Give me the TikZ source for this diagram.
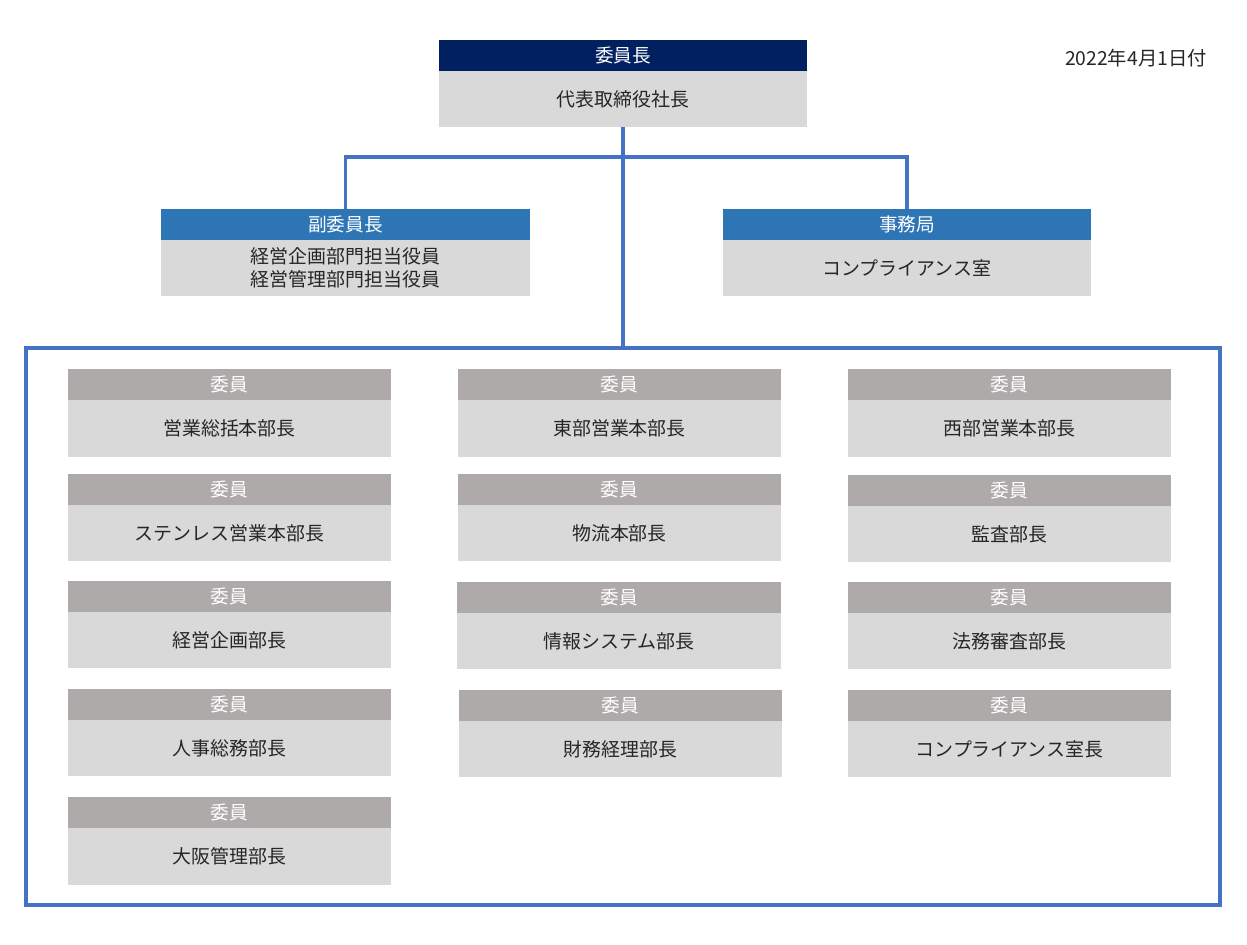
\documentclass[tikz,border=0pt]{standalone}
\usepackage{fontspec}
\setmainfont{Noto Sans CJK JP}
\definecolor{navy}{HTML}{002060}
\definecolor{midblue}{HTML}{2E75B6}
\definecolor{greyhead}{HTML}{AEAAAA}
\definecolor{bodygrey}{HTML}{D9D9D9}
\definecolor{linkblue}{HTML}{4472C4}
\definecolor{txt}{HTML}{262626}
\tikzset{
  hdr/.style={fill=greyhead, text=white, inner sep=0pt, outer sep=0pt, font=\fontsize{14}{16}\selectfont},
  chair/.style={fill=navy},
  vice/.style={fill=midblue},
  bdy/.style={fill=bodygrey, text=txt, inner sep=0pt, outer sep=0pt, align=center, font=\fontsize{14.2}{17.25}\selectfont},
  link/.style={draw=linkblue, line width=2.4pt},
}
% name, x1, x2, ytop, ybottom, header style, header text, body text
\newcommand\orgbox[8]{%
  \node[hdr, #6, anchor=north west, minimum width={(#3-#2)*0.75pt}, minimum height={31*0.75pt}] (#1h) at (#2,#4) {#7};
  \node[bdy, anchor=north west, minimum width={(#3-#2)*0.75pt}, minimum height={(#5-#4-31)*0.75pt}] (#1b) at (#2,#4+31) {#8};
}
\begin{document}
\begin{tikzpicture}[x=0.75pt,y=-0.75pt]
\useasboundingbox (0,0) rectangle (1247,945);
% frame
\node[draw=linkblue, line width=2.4pt, inner sep=0pt, outer sep=0pt, minimum width={1194*0.75pt}, minimum height={557*0.75pt}, anchor=north west] (frame) at (26,348) {};
% top-level boxes
\orgbox{chair}{439}{807}{40}{127}{chair}{委員長}{代表取締役社長}
\orgbox{vice}{161}{530}{209}{296}{vice}{副委員長}{経営企画部門担当役員\\経営管理部門担当役員}
\orgbox{sec}{723}{1091}{209}{296}{vice}{事務局}{コンプライアンス室}
% connectors
\draw[link] (chairb.south) -- (chairb.south |- frame.north);
\draw[link] (viceh.north) -- ++(0,-52) coordinate (bar) -| (sech.north);
% date
\node[text=txt, font=\fontsize{14.5}{17}\selectfont, anchor=east, inner sep=0pt] (date) at (1207,58) {2022年4月1日付};
% column 1
\orgbox{a1}{68}{391}{369}{457}{}{委員}{営業総括本部長}
\orgbox{a2}{68}{391}{474}{561}{}{委員}{ステンレス営業本部長}
\orgbox{a3}{68}{391}{581}{668}{}{委員}{経営企画部長}
\orgbox{a4}{68}{391}{689}{776}{}{委員}{人事総務部長}
\orgbox{a5}{68}{391}{797}{885}{}{委員}{大阪管理部長}
% column 2
\orgbox{b1}{458}{781}{369}{457}{}{委員}{東部営業本部長}
\orgbox{b2}{458}{781}{474}{561}{}{委員}{物流本部長}
\orgbox{b3}{457}{781}{582}{669}{}{委員}{情報システム部長}
\orgbox{b4}{459}{782}{690}{777}{}{委員}{財務経理部長}
% column 3
\orgbox{c1}{848}{1171}{369}{457}{}{委員}{西部営業本部長}
\orgbox{c2}{848}{1171}{475}{562}{}{委員}{監査部長}
\orgbox{c3}{848}{1171}{582}{669}{}{委員}{法務審査部長}
\orgbox{c4}{848}{1171}{690}{777}{}{委員}{コンプライアンス室長}
\end{tikzpicture}
\end{document}
